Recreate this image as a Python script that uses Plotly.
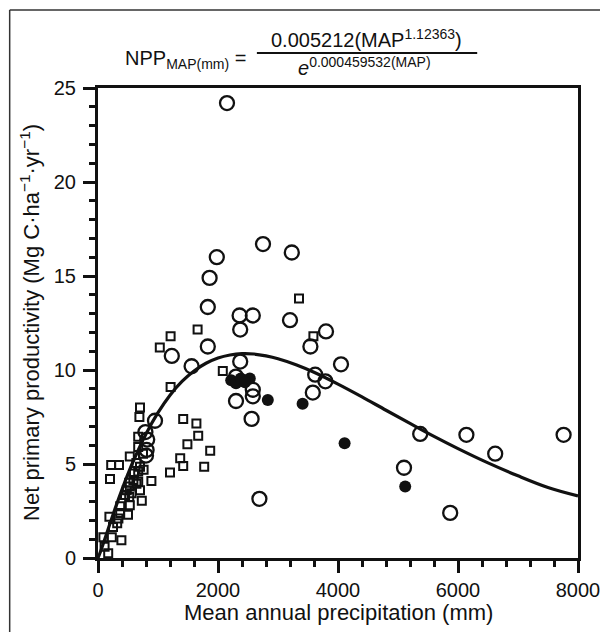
import plotly.graph_objects as go

# open circles
circ_x = [2150, 2750, 1980, 3230, 1860, 1830, 2360, 2580, 2370, 3200, 3800, 3540,
          1830, 1230, 1560, 2370, 4050, 3620, 3790, 2300, 2580, 2580, 3580, 2300,
          2560, 950, 790, 820, 810, 800, 2690, 5370, 5100, 6140, 6620, 7760, 5870]
circ_y = [24.2, 16.7, 16.0, 16.25, 14.9, 13.35, 12.9, 12.9, 12.15, 12.65, 12.05, 11.25,
          11.25, 10.75, 10.2, 10.45, 10.3, 9.75, 9.4, 9.65, 8.95, 8.6, 8.8, 8.35,
          7.4, 7.3, 6.7, 6.3, 5.75, 5.45, 3.15, 6.6, 4.8, 6.55, 5.55, 6.55, 2.4]

# filled circles
dot_x = [2220, 2300, 2380, 2530, 2450, 2830, 3410, 4110, 5120]
dot_y = [9.45, 9.3, 9.55, 9.55, 9.35, 8.4, 8.2, 6.1, 3.8]

# open squares
sq_x = [3350, 3590, 2080, 1660, 1210, 1030, 1210, 700, 690, 1420, 1640, 1670,
        1490, 1870, 1370, 1420, 1770, 1200, 890, 220, 350, 200, 530, 670,
        670, 750, 700, 670, 760, 640, 590, 520, 670, 640, 700, 480, 730, 530,
        560, 450, 520, 530, 370, 500, 370, 340, 320, 190, 250, 390, 90, 230,
        170, 110, 600]
sq_y = [13.8, 11.8, 9.95, 12.15, 11.8, 11.2, 9.1, 8.0, 7.5, 7.4, 7.15, 6.5,
        6.05, 5.7, 5.3, 4.9, 4.85, 4.55, 4.1, 4.95, 4.95, 4.2, 5.4, 6.45,
        5.9, 5.55, 4.85, 4.6, 4.7, 5.05, 4.15, 4.0, 4.05, 3.95, 3.6, 3.6, 3.05, 3.8,
        3.45, 3.35, 3.25, 2.8, 2.75, 2.3, 2.4, 2.1, 1.85, 2.2, 1.65, 0.95, 1.1, 1.1,
        0.25, 0.6, 4.5]

# fitted curve
curve_x = [0, 50, 100, 200, 300, 400, 500, 600, 800, 1000, 1200, 1400, 1600, 1800,
           2000, 2200, 2400, 2600, 2800, 3000, 3300, 3600, 4000, 4400, 4800, 5200,
           5600, 6000, 6500, 7000, 7500, 8000]
curve_y = [0, 0.41, 0.88, 1.83, 2.76, 3.64, 4.47, 5.24, 6.6, 7.73, 8.66, 9.39, 9.95, 10.36,
           10.64, 10.8, 10.87, 10.85, 10.75, 10.6, 10.28, 9.88, 9.25, 8.57, 7.86, 7.16,
           6.47, 5.82, 5.06, 4.37, 3.75, 3.3]

FONT = "Liberation Sans, Arial, sans-serif"
INK = "#111111"

fig = go.Figure()

fig.add_trace(go.Scatter(
    x=curve_x, y=curve_y, mode="lines", line=dict(color=INK, width=3.2, shape="spline"),
    hoverinfo="skip"))

fig.add_trace(go.Scatter(
    x=sq_x, y=sq_y, mode="markers",
    marker=dict(symbol="square-open", size=8, color=INK, line=dict(width=2, color=INK))))

fig.add_trace(go.Scatter(
    x=circ_x, y=circ_y, mode="markers",
    marker=dict(symbol="circle-open", size=14, color=INK, line=dict(width=2.3, color=INK))))

fig.add_trace(go.Scatter(
    x=dot_x, y=dot_y, mode="markers",
    marker=dict(symbol="circle", size=12, color=INK)))

axis_common = dict(
    showline=True, linecolor=INK, linewidth=3, mirror=True,
    ticks="outside", ticklen=12, tickwidth=2.5, tickcolor=INK,
    showgrid=False, zeroline=False, automargin=False,
    tickfont=dict(family=FONT, size=20, color=INK),
)

fig.update_xaxes(
    range=[0, 8000], tickvals=[0, 2000, 4000, 6000, 8000],
    minor=dict(ticks="outside", ticklen=6, tickwidth=2.5, tickcolor=INK, dtick=400, showgrid=False),
    **axis_common)

fig.update_yaxes(
    range=[0, 25], tickvals=[0, 5, 10, 15, 20, 25],
    minor=dict(ticks="outside", ticklen=6, tickwidth=2.5, tickcolor=INK, dtick=1, showgrid=False),
    ticklabelstandoff=3,
    **axis_common)

# axis titles
title_font = dict(family=FONT, size=22, color=INK)
fig.add_annotation(x=0.5, y=-0.115, xref="paper", yref="paper", xanchor="center", yanchor="middle",
                   text="Mean annual precipitation (mm)", showarrow=False, font=title_font)
fig.add_annotation(x=-0.142, y=0.502, xref="paper", yref="paper", xanchor="center", yanchor="middle",
                   text="Net primary productivity (Mg C·ha<sup>−1</sup>·yr<sup>−1</sup>)",
                   textangle=-90, showarrow=False, font=title_font)

# equation above the plot
eq_font = dict(family=FONT, size=20, color=INK)
fig.add_annotation(x=0.052, y=1.06, xref="paper", yref="paper", xanchor="left", yanchor="middle",
                   text="NPP<sub>MAP(mm)</sub> =", showarrow=False, font=eq_font)
fig.add_annotation(x=0.56, y=1.105, xref="paper", yref="paper", xanchor="center", yanchor="middle",
                   text="0.005212(MAP<sup>1.12363</sup>)", showarrow=False, font=eq_font)
fig.add_annotation(x=0.555, y=1.045, xref="paper", yref="paper", xanchor="center", yanchor="middle",
                   text="<i>e</i><sup>0.000459532(MAP)</sup>", showarrow=False, font=eq_font)
fig.add_shape(type="line", xref="paper", yref="paper", x0=0.331, x1=0.79, y0=1.0745, y1=1.0745,
              line=dict(color=INK, width=2))

# scan border
fig.add_shape(type="line", xref="paper", yref="paper", x0=-0.184, x1=-0.184, y0=-0.2, y1=1.166,
              line=dict(color="#333333", width=1.5))
fig.add_shape(type="line", xref="paper", yref="paper", x0=-0.184, x1=1.1, y0=1.166, y1=1.166,
              line=dict(color="#333333", width=1.5))

# page body adds an 8px offset, so margins are shifted to keep the plot box in place
fig.update_layout(
    width=608, height=632,
    margin=dict(l=90, r=38, t=80, b=82),
    paper_bgcolor="white", plot_bgcolor="white",
    showlegend=False,
    font=dict(family=FONT, color=INK),
)

fig.write_html("out.html")
